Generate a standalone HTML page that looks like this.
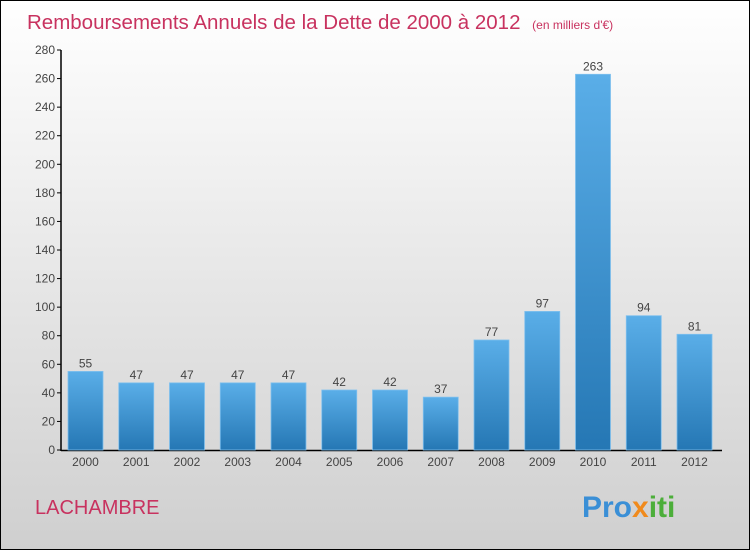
<!DOCTYPE html>
<html><head><meta charset="utf-8"><style>
body{margin:0;width:750px;height:550px;overflow:hidden}
svg{display:block;font-family:"Liberation Sans",sans-serif}
</style></head><body>
<svg width="750" height="550">
<defs>
<linearGradient id="bg" x1="0" y1="0" x2="0" y2="1"><stop offset="0" stop-color="#ffffff"/><stop offset="1" stop-color="#cfcfcf"/></linearGradient>
<linearGradient id="bar" x1="0" y1="0" x2="0" y2="1"><stop offset="0" stop-color="#5aaee8"/><stop offset="1" stop-color="#2577b4"/></linearGradient>
</defs>
<rect x="0.5" y="0.5" width="749" height="549" fill="url(#bg)" stroke="#000"/>
<text x="27" y="29" font-size="20.5" fill="#c8325f">Remboursements Annuels de la Dette de 2000 à 2012 <tspan font-size="12" dx="6">(en milliers d'€)</tspan></text>
<text x="35" y="514" font-size="20" fill="#c8325f">LACHAMBRE</text>
<text x="582" y="517" font-size="30" font-weight="bold"><tspan fill="#3a8fd6">Pro</tspan><tspan fill="#f08a1c">x</tspan><tspan fill="#4cae3a">iti</tspan></text>
<g id="plot"></g>
</svg>
<script>
const categories=["2000","2001","2002","2003","2004","2005","2006","2007","2008","2009","2010","2011","2012"];
const values=[55,47,47,47,47,42,42,37,77,97,263,94,81];
const yTicks=[0,20,40,60,80,100,120,140,160,180,200,220,240,260,280];
const NS="http://www.w3.org/2000/svg";
const g=document.getElementById('plot');
const y=v=>450-v*400/280;
const x=i=>68+i*50.75;
function el(t,a){const e=document.createElementNS(NS,t);for(const k in a)e.setAttribute(k,a[k]);g.appendChild(e);return e;}
const ya=el('line',{x1:61,y1:50,x2:61,y2:451,stroke:'#000','stroke-width':1.5});


const xa=el('line',{x1:61,y1:450.5,x2:722,y2:450.5,stroke:'#000','stroke-width':1.5});


yTicks.forEach(t=>{
  const tk=el('line',{x1:57,x2:61,y1:y(t),y2:y(t),stroke:'#000'});
  
  
  const tl=el('text',{x:55,y:y(t)+4,'font-size':12,fill:'#444','text-anchor':'end'});
  tl.textContent=t;
  
  
});
categories.forEach((c,i)=>{
  const v=values[i];
  const b=el('rect',{x:x(i),y:y(v),width:35,height:450-y(v),fill:'url(#bar)',stroke:'#7fc0ee','stroke-width':0.8});
  
  
  const vl=el('text',{x:x(i)+17.5,y:y(v)-4,'font-size':12,fill:'#444','text-anchor':'middle'});
  vl.textContent=v;
  
  
  const xl=el('text',{x:x(i)+17.5,y:466,'font-size':12,fill:'#444','text-anchor':'middle'});
  xl.textContent=c;
  
  
});
</script>
</body></html>
